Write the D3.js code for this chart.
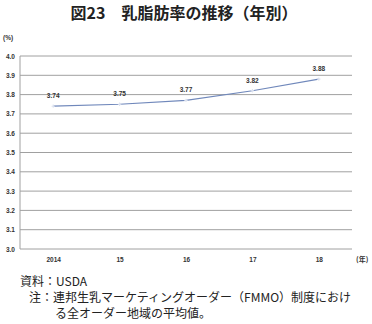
<!DOCTYPE html>
<html><head><meta charset="utf-8">
<script src="https://cdn.jsdelivr.net/npm/d3@7"></script>
<style>
body{margin:0;background:#fff;}
svg{display:block;}
</style></head>
<body>
<svg id="c" width="372" height="324"></svg>
<script>
const categories = ["2014","15","16","17","18"];
const values = [3.74,3.75,3.77,3.82,3.88];
const yTicks = [3.0,3.1,3.2,3.3,3.4,3.5,3.6,3.7,3.8,3.9,4.0];
const title = "図23　乳脂肪率の推移（年別）";
const notes = ["資料：USDA","注：連邦生乳マーケティングオーダー（FMMO）制度におけ","る全オーダー地域の平均値。"];

const svg = d3.select("#c");
const L=20, R=352, T=56, B=249;
const x = d3.scalePoint().domain(categories).range([L,R]).padding(0.5);
const y = d3.scaleLinear().domain([3.0,4.0]).range([B,T]);
const sf = "'Liberation Sans', Arial, sans-serif";
const jf = "'Noto Sans CJK JP', sans-serif";

svg.append("text").attr("x",184).attr("y",19).attr("text-anchor","middle")
  .attr("font-family",jf).attr("font-weight","bold").attr("font-size",16).attr("fill","#222").text(title);

// gridlines
svg.append("g").selectAll("line").data(yTicks).join("line")
  .attr("x1",L).attr("x2",R).attr("y1",d=>y(d)).attr("y2",d=>y(d))
  .attr("stroke","#a0a0a0").attr("stroke-width",1);
svg.append("line").attr("x1",L).attr("x2",L).attr("y1",T).attr("y2",B).attr("stroke","#a0a0a0");

// y axis labels
const ya = d3.axisLeft(y).tickValues(yTicks).tickFormat(d3.format(".1f")).tickSize(0).tickPadding(5);
const yg = svg.append("g").attr("transform",`translate(${L},0)`).call(ya);
yg.select(".domain").remove();
yg.selectAll("text").attr("font-family",sf).attr("font-weight","bold").attr("font-size",6.5).attr("fill","#333");

// x axis labels
const xa = d3.axisBottom(x).tickSize(0).tickPadding(8);
const xg = svg.append("g").attr("transform",`translate(0,${B})`).call(xa);
xg.select(".domain").remove();
xg.selectAll("text").attr("font-family",sf).attr("font-weight","bold").attr("font-size",6.5).attr("fill","#333");

svg.append("text").attr("x",3).attr("y",40).attr("font-family",sf).attr("font-weight","bold")
  .attr("font-size",6.5).attr("fill","#333").text("(%)");
svg.append("text").attr("x",356).attr("y",262).attr("font-family",jf).attr("font-weight","bold")
  .attr("font-size",7).attr("fill","#333").text("(年)");

const data = categories.map((c,i)=>({c,v:values[i]}));
svg.append("path").datum(data)
  .attr("d",d3.line().x(d=>x(d.c)).y(d=>y(d.v)))
  .attr("fill","none").attr("stroke","#7088bb").attr("stroke-width",1.2);
svg.append("g").selectAll("path").data(data).join("path")
  .attr("d",d3.symbol(d3.symbolCross,6)).attr("transform",d=>`translate(${x(d.c)},${y(d.v)})`)
  .attr("fill","#dde3f0");

svg.append("g").selectAll("text").data(data).join("text")
  .attr("x",d=>x(d.c)).attr("y",d=>y(d.v)-8).attr("text-anchor","middle")
  .attr("font-family",sf).attr("font-weight","bold").attr("font-size",6.5).attr("fill","#333")
  .text(d=>d.v.toFixed(2));

// notes
const nx=[20,29,55], ny=[286,302,318];
notes.forEach((t,i)=>{
  svg.append("text").attr("x",nx[i]).attr("y",ny[i]).attr("font-family",jf)
    .attr("font-size",12).attr("fill","#222").text(t);
});
</script>
</body></html>
